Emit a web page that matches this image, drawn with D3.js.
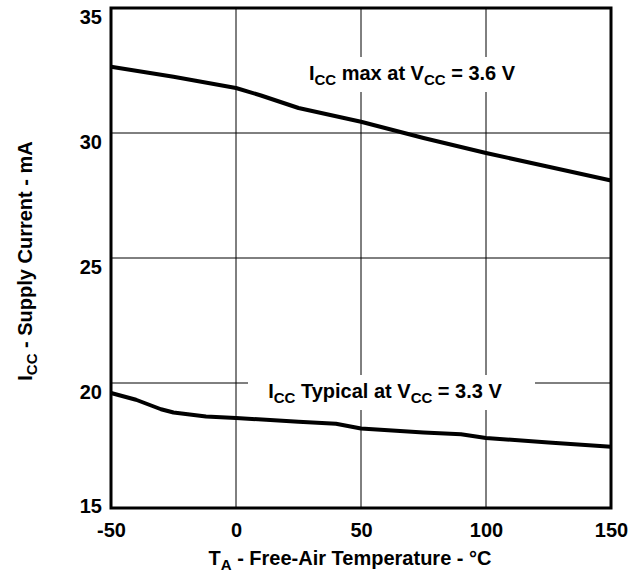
<!DOCTYPE html>
<html><head><meta charset="utf-8">
<script src="https://cdn.jsdelivr.net/npm/d3@7"></script>
<style>body{margin:0;background:#fff}svg{display:block}text{font-family:Arial,"Liberation Sans",sans-serif;font-weight:bold;fill:#000}</style>
</head><body>
<script>
const xTicks = [-50, 0, 50, 100, 150];
const yTicks = [15, 20, 25, 30, 35];
const maxTemp = [-50, -25, 0, 10, 25, 50, 75, 100, 125, 150];
const maxIcc  = [32.65, 32.25, 31.8, 31.5, 31.0, 30.45, 29.8, 29.2, 28.65, 28.1];
const typTemp = [-50, -40, -30, -25, -12, 0, 25, 40, 50, 75, 90, 100, 125, 150];
const typIcc  = [19.6, 19.33, 18.95, 18.82, 18.66, 18.6, 18.45, 18.37, 18.18, 18.02, 17.95, 17.8, 17.62, 17.45];

const W = 636, H = 573;
const FONT = "Arial, 'Liberation Sans', sans-serif";
const svg = d3.select("body").append("svg").attr("width", W).attr("height", H);
const x = d3.scaleLinear().domain([-50, 150]).range([111, 611]);
const y = d3.scaleLinear().domain([15, 35]).range([508, 8]);

// grid
const g = svg.append("g");
g.selectAll(".vg").data(xTicks.slice(1, -1)).join("line")
  .attr("x1", d => x(d)).attr("x2", d => x(d)).attr("y1", y(35)).attr("y2", y(15))
  .attr("stroke", "#000").attr("stroke-width", 1);
g.selectAll(".hg").data(yTicks.slice(1, -1)).join("line")
  .attr("y1", d => y(d)).attr("y2", d => y(d)).attr("x1", x(-50)).attr("x2", x(150))
  .attr("stroke", "#000").attr("stroke-width", 1);

// label backgrounds
svg.append("rect").attr("x", 290).attr("y", 57).attr("width", 240).attr("height", 35).attr("fill", "#fff");
svg.append("rect").attr("x", 248).attr("y", 375).attr("width", 287).attr("height", 35).attr("fill", "#fff");

// lines
const line = d3.line().x(d => x(d[0])).y(d => y(d[1]));
svg.append("path").datum(maxTemp.map((t, i) => [t, maxIcc[i]]))
  .attr("d", line).attr("fill", "none").attr("stroke", "#000").attr("stroke-width", 4).attr("stroke-linejoin", "round");
svg.append("path").datum(typTemp.map((t, i) => [t, typIcc[i]]))
  .attr("d", line).attr("fill", "none").attr("stroke", "#000").attr("stroke-width", 4).attr("stroke-linejoin", "round");

// frame
svg.append("rect").attr("x", x(-50)).attr("y", y(35)).attr("width", x(150) - x(-50)).attr("height", y(15) - y(35))
  .attr("fill", "none").attr("stroke", "#000").attr("stroke-width", 3);

// axes tick labels
const xAxis = d3.axisBottom(x).tickValues(xTicks).tickSize(0).tickPadding(0).tickFormat(d => String(d));
const xa = svg.append("g").attr("transform", `translate(0,${y(15)})`).call(xAxis);
xa.select(".domain").remove();
xa.selectAll("text").attr("dy", null).attr("y", 29).style("font-size", "20px").style("font-family", FONT).style("font-weight", "bold");

const yAxis = d3.axisLeft(y).tickValues(yTicks).tickSize(0).tickPadding(0).tickFormat(d => String(d));
const ya = svg.append("g").attr("transform", `translate(${x(-50)},0)`).call(yAxis);
ya.select(".domain").remove();
ya.selectAll("text").attr("x", -9).attr("dy", null).attr("y", d => d === 15 ? 4 : 15)
  .style("font-size", "20px").style("font-family", FONT).style("font-weight", "bold");

function subText(sel, parts) {
  parts.forEach(p => {
    const t = sel.append("tspan").text(p.t);
    if (p.sub) t.attr("font-size", "15px").attr("dy", 5);
    else if (p.after) t.attr("dy", -5);
  });
}

// curve labels
const l1 = svg.append("text").attr("x", 412).attr("y", 80).attr("text-anchor", "middle").style("font-size", "20px");
subText(l1, [{t: "I"}, {t: "CC", sub: true}, {t: " max at V", after: true}, {t: "CC", sub: true}, {t: " = 3.6 V", after: true}]);
const l2 = svg.append("text").attr("x", 385).attr("y", 398).attr("text-anchor", "middle").style("font-size", "20px");
subText(l2, [{t: "I"}, {t: "CC", sub: true}, {t: " Typical at V", after: true}, {t: "CC", sub: true}, {t: " = 3.3 V", after: true}]);

// axis titles
const xt = svg.append("text").attr("x", 350).attr("y", 565).attr("text-anchor", "middle").style("font-size", "20px");
subText(xt, [{t: "T"}, {t: "A", sub: true}, {t: " - Free-Air Temperature - °C", after: true}]);
const yt = svg.append("text").attr("transform", "translate(32,261) rotate(-90)").attr("text-anchor", "middle").style("font-size", "20px");
subText(yt, [{t: "I"}, {t: "CC", sub: true}, {t: " - Supply Current - mA", after: true}]);
</script>
</body></html>
